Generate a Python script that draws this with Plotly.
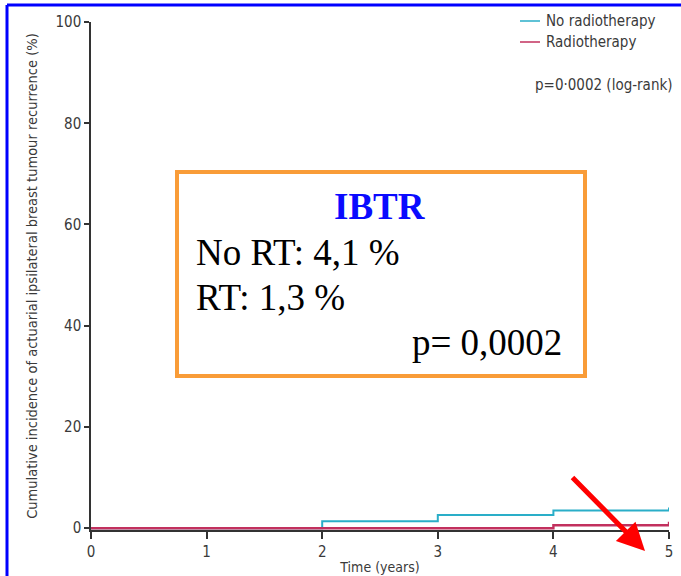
import plotly.graph_objects as go

# Actuarial cumulative incidence of IBTR (%), step functions by year
years_no_rt = [0, 2, 3, 4, 5]
ibtr_no_rt = [0, 1.4, 2.6, 3.5, 4.1]
years_rt = [0, 4, 5]
ibtr_rt = [0, 0.6, 1.3]

x_ticks = [0, 1, 2, 3, 4, 5]
y_ticks = [0, 20, 40, 60, 80, 100]

series_names = ["No radiotherapy", "Radiotherapy"]
series_colors = ["#2aaec8", "#c2305e"]

box_title = "IBTR"
box_lines = ["No RT: 4,1 %", "RT: 1,3 %"]
box_p = "p= 0,0002"
logrank_text = "p=0·0002 (log-rank)"

sans = "Liberation Sans Narrow, DejaVu Sans Condensed, Arial Narrow, sans-serif"
serif = "Liberation Serif, Times New Roman, serif"
ink = "#3a3a3a"

W, H = 681, 576
L, R, T, B = 91, 12, 22, 46
pw, ph = W - L - R, H - T - B


def px(xp):
    return (xp - L) / pw


def py(yp):
    return (H - B - yp) / ph


fig = go.Figure()
fig.add_trace(go.Scatter(x=years_no_rt, y=ibtr_no_rt, mode="lines",
                         line=dict(color=series_colors[0], width=2, shape="hv"),
                         name=series_names[0], cliponaxis=False))
fig.add_trace(go.Scatter(x=years_rt, y=ibtr_rt, mode="lines",
                         line=dict(color=series_colors[1], width=2.4, shape="hv"),
                         name=series_names[1], cliponaxis=False))

shapes = []
annotations = []

# legend samples and labels
for i, (name, col) in enumerate(zip(series_names, series_colors)):
    yy = py(21 + 21 * i)
    shapes.append(dict(type="line", xref="paper", yref="paper",
                       x0=px(520), x1=px(540), y0=yy, y1=yy,
                       line=dict(color=col, width=1.5)))
    annotations.append(dict(xref="paper", yref="paper", x=px(544), y=yy,
                            text=name, showarrow=False, xanchor="left",
                            yanchor="middle", font=dict(family=sans, size=15, color=ink)))
annotations.append(dict(xref="paper", yref="paper", x=px(533), y=py(85),
                        text=logrank_text, showarrow=False, xanchor="left",
                        yanchor="middle", font=dict(family=sans, size=15, color=ink)))

# summary box
shapes.append(dict(type="rect", xref="paper", yref="paper",
                   x0=px(177), x1=px(585), y0=py(172), y1=py(376),
                   line=dict(color="#f99c38", width=4), fillcolor="white", layer="above"))
annotations.append(dict(xref="paper", yref="paper", x=px(380), y=py(206),
                        text="<b>%s</b>" % box_title, showarrow=False,
                        xanchor="center", yanchor="middle",
                        font=dict(family=serif, size=37, color="#0a0aff")))
for i, line in enumerate(box_lines):
    annotations.append(dict(xref="paper", yref="paper", x=px(194), y=py(253 + 45 * i),
                            text=line, showarrow=False, xanchor="left", yanchor="middle",
                            font=dict(family=serif, size=37, color="black")))
annotations.append(dict(xref="paper", yref="paper", x=px(564), y=py(342),
                        text=box_p, showarrow=False, xanchor="right", yanchor="middle",
                        font=dict(family=serif, size=37, color="black")))

# red pointer arrow towards the 5-year mark
annotations.append(dict(xref="paper", yref="paper", axref="pixel", ayref="pixel",
                        x=px(645), y=py(551), ax=571 - 645, ay=476 - 551,
                        text="", showarrow=True, arrowhead=2, arrowsize=1.1,
                        arrowwidth=5, arrowcolor="#ff0000"))

# outer blue frame (top and left edges)
shapes.append(dict(type="line", xref="paper", yref="paper",
                   x0=px(7), x1=px(681), y0=py(5), y1=py(5),
                   line=dict(color="#0000ff", width=3)))
shapes.append(dict(type="line", xref="paper", yref="paper",
                   x0=px(7), x1=px(7), y0=py(5), y1=py(576),
                   line=dict(color="#0000ff", width=3)))

fig.update_layout(
    width=W, height=H,
    margin=dict(l=L, r=R, t=T, b=B, pad=0, autoexpand=False),
    paper_bgcolor="white", plot_bgcolor="white",
    showlegend=False,
    shapes=shapes, annotations=annotations,
    xaxis=dict(range=[0, 5], tickvals=x_ticks, ticks="outside", ticklen=7,
               tickwidth=1.5, tickcolor="#333", showline=True, linecolor="#333",
               linewidth=1.5, showgrid=False, zeroline=False, automargin=False,
               layer="below traces",
               tickfont=dict(family=sans, size=15, color=ink),
               title=dict(text="Time (years)", standoff=2,
                          font=dict(family=sans, size=14, color=ink))),
    yaxis=dict(range=[-0.35, 100], tickvals=y_ticks, ticks="outside", ticklen=5,
               tickwidth=1.5, tickcolor="#333", showline=True, linecolor="#333",
               linewidth=1.5, showgrid=False, zeroline=False, automargin=False,
               layer="below traces",
               tickfont=dict(family=sans, size=15, color=ink),
               title=dict(text="Cumulative incidence of actuarial ipsilateral breast tumour recurrence (%)",
                          standoff=14, font=dict(family=sans, size=14.5, color=ink))),
)

fig.write_html("out.html")
